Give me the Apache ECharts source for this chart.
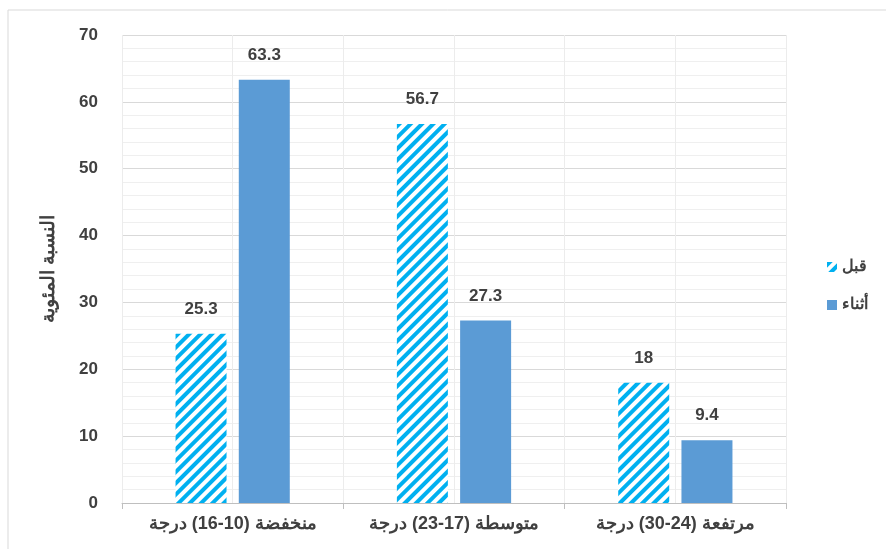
<!DOCTYPE html>
<html>
<head>
<meta charset="utf-8">
<script src="https://cdn.jsdelivr.net/npm/echarts@6/dist/echarts.min.js"></script>
<style>
html,body{margin:0;padding:0;background:#fff;}
#chart{width:886px;height:549px;}
</style>
</head>
<body>
<div id="chart"></div>
<script>
// Temperature categories and percentages before / during
const categories = ['منخفضة (10-16) درجة', 'متوسطة (17-23) درجة', 'مرتفعة (24-30) درجة'];
const seriesNames = ['قبل', 'أثناء'];
const beforeValues = [25.3, 56.7, 18];
const duringValues = [63.3, 27.3, 9.4];
const yAxisTitle = 'النسبة المئوية';

const font = "'Liberation Sans Narrow', 'Liberation Sans', Arial, sans-serif";
const textColor = '#404040';

const chart = echarts.init(document.getElementById('chart'), null, { renderer: 'canvas' });

const labelStyle = {
  show: true,
  position: 'top',
  distance: 16,
  color: textColor,
  fontFamily: font,
  fontWeight: 'bold',
  fontSize: 17
};

chart.setOption({
  animation: false,
  backgroundColor: '#fff',
  graphic: [{
    type: 'rect',
    shape: { x: 8, y: 10, width: 900, height: 560 },
    style: { fill: 'none', stroke: '#d9d9d9', lineWidth: 1 },
    silent: true,
    z: -10
  }],
  grid: { left: 122, right: 100, top: 35, bottom: 46 },
  legend: {
    orient: 'vertical',
    left: 822,
    top: 254,
    itemWidth: 10,
    itemHeight: 10,
    itemGap: 22,
    icon: 'rect',
    textStyle: { color: textColor, fontFamily: font, fontWeight: 'bold', fontSize: 16 },
    data: seriesNames
  },
  xAxis: [{
    type: 'category',
    data: categories,
    axisLine: { lineStyle: { color: '#bfbfbf' } },
    axisTick: { show: true, length: 6, lineStyle: { color: '#bfbfbf' } },
    axisLabel: { color: textColor, fontFamily: font, fontWeight: 'bold', fontSize: 18, margin: 12 },
    splitLine: { show: false }
  }, {
    // half-category vertical grid lines
    type: 'value',
    min: 0, max: 6, interval: 1,
    position: 'bottom',
    axisLine: { show: false },
    axisTick: { show: false },
    axisLabel: { show: false },
    splitLine: { show: true, lineStyle: { color: '#ececec' } }
  }],
  yAxis: {
    type: 'value',
    min: 0, max: 70, interval: 10,
    name: yAxisTitle,
    nameLocation: 'middle',
    nameRotate: 90,
    nameGap: 64,
    nameTextStyle: { color: textColor, fontFamily: font, fontWeight: 'bold', fontSize: 19 },
    axisLine: { show: false },
    axisTick: { show: false },
    axisLabel: { color: textColor, fontFamily: font, fontWeight: 'bold', fontSize: 17, margin: 24 },
    splitLine: { show: true, lineStyle: { color: '#d9d9d9' } },
    minorTick: { show: false, splitNumber: 5 },
    minorSplitLine: { show: true, lineStyle: { color: '#efefef' } }
  },
  series: [{
    name: seriesNames[0],
    type: 'bar',
    data: beforeValues,
    barWidth: 51,
    barGap: '24%',
    itemStyle: {
      color: '#ffffff',
      decal: {
        symbol: 'rect',
        color: '#00B0F0',
        dashArrayX: [1, 0],
        dashArrayY: [4, 4],
        rotation: -Math.PI / 4,
        symbolSize: 1
      }
    },
    label: labelStyle
  }, {
    name: seriesNames[1],
    type: 'bar',
    data: duringValues,
    barWidth: 51,
    itemStyle: { color: '#5B9BD5' },
    label: labelStyle
  }]
});
</script>
</body>
</html>
